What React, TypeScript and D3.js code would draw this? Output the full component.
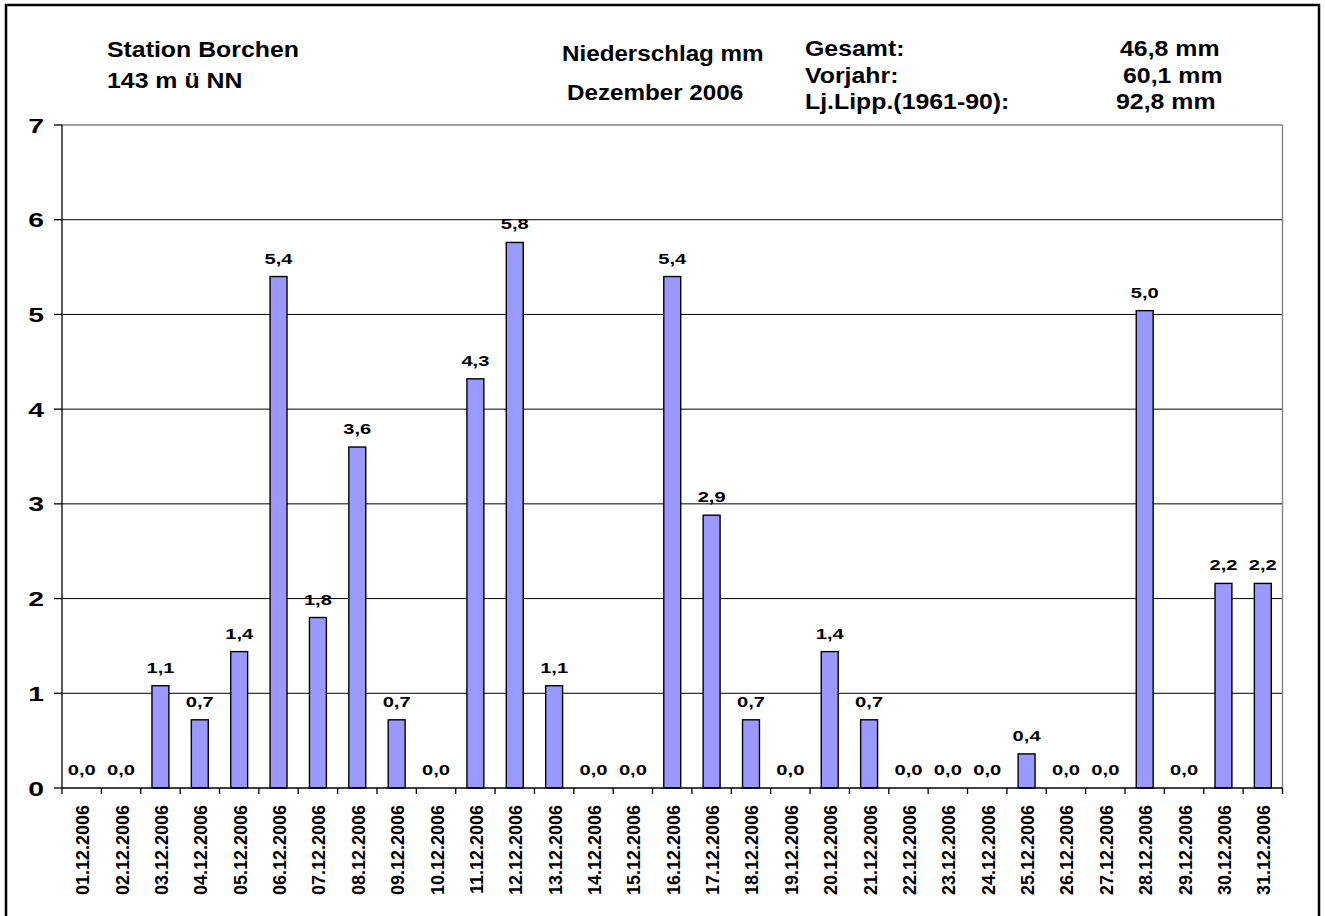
import React from 'react';
import * as d3 from 'd3';

// categories (days) and daily rain in mm
const days = [
  '01.12.2006', '02.12.2006', '03.12.2006', '04.12.2006', '05.12.2006', '06.12.2006',
  '07.12.2006', '08.12.2006', '09.12.2006', '10.12.2006', '11.12.2006', '12.12.2006',
  '13.12.2006', '14.12.2006', '15.12.2006', '16.12.2006', '17.12.2006', '18.12.2006',
  '19.12.2006', '20.12.2006', '21.12.2006', '22.12.2006', '23.12.2006', '24.12.2006',
  '25.12.2006', '26.12.2006', '27.12.2006', '28.12.2006', '29.12.2006', '30.12.2006',
  '31.12.2006',
];
const rain = [
  0, 0, 1.08, 0.72, 1.44, 5.4, 1.8, 3.6, 0.72, 0, 4.32, 5.76, 1.08, 0, 0, 5.4,
  2.88, 0.72, 0, 1.44, 0.72, 0, 0, 0, 0.36, 0, 0, 5.04, 0, 2.16, 2.16,
];
const yTicks = [0, 1, 2, 3, 4, 5, 6, 7];

const stationLines = ['Station Borchen', '143 m ü NN'];
const titleLines = ['Niederschlag mm', 'Dezember 2006'];
const statLabels = ['Gesamt:', 'Vorjahr:', 'Lj.Lipp.(1961-90):'];
const statValues = ['46,8 mm', '60,1 mm', '92,8 mm'];

const W = 1325;
const H = 916;
const left = 62;
const right = 1282.5;
const top = 125;
const bottom = 788;
const font = 'Liberation Sans, Arial, sans-serif';

// bold text, a bit wider than normal like the original
function Txt({ x, y, size, sx, anchor = 'start', children }: any) {
  return (
    <text
      transform={`translate(${x},${y}) scale(${sx},1)`}
      textAnchor={anchor}
      fontSize={size}
      fontWeight="bold"
      fontFamily={font}
      fill="#000"
    >
      {children}
    </text>
  );
}

export default function App() {
  const x = d3.scaleBand().domain(days).range([left, right]).paddingInner(0.57).paddingOuter(0.285);
  const y = d3.scaleLinear().domain([0, 7]).range([bottom, top]);
  const step = x.step();
  const fmt = (v: number) => d3.format('.1f')(v).replace('.', ',');

  return (
    <svg width={W} height={H} style={{ position: 'absolute', left: 0, top: 0, background: '#fff' }}>
      {/* outer frame */}
      <rect x={6} y={5} width={1313} height={1000} fill="none" stroke="#000" strokeWidth={2.5} />

      {/* header */}
      {stationLines.map((t, i) => (
        <Txt key={t} x={107} y={57 + i * 31} size={22} sx={1.13}>{t}</Txt>
      ))}
      <Txt x={562} y={61} size={22} sx={1.1}>{titleLines[0]}</Txt>
      <Txt x={567} y={100} size={22} sx={1.1}>{titleLines[1]}</Txt>
      {statLabels.map((t, i) => (
        <Txt key={t} x={805} y={56 + i * 26.5} size={22} sx={1.13}>{t}</Txt>
      ))}
      {statValues.map((t, i) => (
        <Txt key={t} x={[1120, 1123, 1116][i]} y={56 + i * 26.5} size={22} sx={1.13}>{t}</Txt>
      ))}

      {/* gridlines */}
      {yTicks.filter((t) => t > 0 && t < 7).map((t) => (
        <line key={t} x1={left} x2={right} y1={y(t)} y2={y(t)} stroke="#000" strokeWidth={1} />
      ))}
      {/* plot border top / right */}
      <line x1={left} x2={right} y1={y(7)} y2={y(7)} stroke="#808080" strokeWidth={1.3} />
      <line x1={right} x2={right} y1={y(7)} y2={y(0)} stroke="#808080" strokeWidth={1.3} />

      {/* bars */}
      {rain.map((v, i) => (
        <rect
          key={days[i]}
          x={x(days[i])}
          y={y(v)}
          width={x.bandwidth()}
          height={y(0) - y(v)}
          fill="#9999FF"
          stroke="#000"
          strokeWidth={1.4}
        />
      ))}

      {/* value labels */}
      {rain.map((v, i) => (
        <Txt key={'v' + i} x={(x(days[i]) as number) + x.bandwidth() / 2} y={y(v) - 13} size={15.5} sx={1.3} anchor="middle">
          {fmt(v)}
        </Txt>
      ))}

      {/* y axis */}
      <line x1={left} x2={left} y1={y(7)} y2={y(0)} stroke="#000" strokeWidth={1.3} />
      {yTicks.map((t) => (
        <g key={t}>
          <line x1={left - 8} x2={left} y1={y(t)} y2={y(t)} stroke="#000" strokeWidth={1.3} />
          <Txt x={44} y={y(t) + 7.5} size={21} sx={1.35} anchor="end">{t}</Txt>
        </g>
      ))}

      {/* x axis */}
      <line x1={left} x2={right} y1={y(0)} y2={y(0)} stroke="#000" strokeWidth={1.3} />
      {d3.range(days.length + 1).map((i) => (
        <line key={'t' + i} x1={left + i * step} x2={left + i * step} y1={y(0)} y2={y(0) + 6} stroke="#000" strokeWidth={1.3} />
      ))}
      {days.map((d) => {
        const cx = (x(d) as number) + x.bandwidth() / 2;
        return (
          <text
            key={d}
            transform={`translate(${cx + 7.5},805) rotate(-90)`}
            textAnchor="end"
            fontSize={18}
            fontWeight="bold"
            fontFamily={font}
          >
            {d}
          </text>
        );
      })}
    </svg>
  );
}
